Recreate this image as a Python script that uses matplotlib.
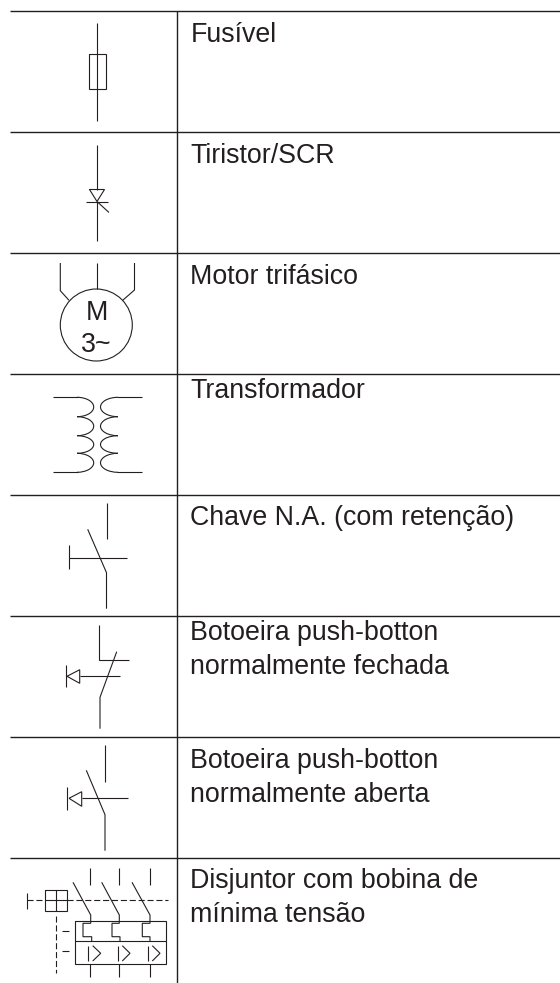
import matplotlib
matplotlib.use("Agg")
import matplotlib.pyplot as plt
from matplotlib.patches import Arc, Circle

INK = "#231f20"

row_lines = [11, 132, 253, 374, 495, 616, 737, 858]
labels = [
    (["Fusível"], [41.7]),
    (["Tiristor/SCR"], [163]),
    (["Motor trifásico"], [284]),
    (["Transformador"], [398]),
    (["Chave N.A. (com retenção)"], [525]),
    (["Botoeira push-botton", "normalmente fechada"], [640, 673.5]),
    (["Botoeira push-botton", "normalmente aberta"], [767.7, 801.6]),
    (["Disjuntor com bobina de", "mínima tensão"], [888.3, 921.7]),
]

fuse = [
    [(97, 23), (97, 120.5)],
    [(89, 54), (105.5, 54), (105.5, 89), (89, 89), (89, 54)],
]
thyristor = [
    [(96.5, 145), (96.5, 189.5)],
    [(89.5, 189.5), (104.5, 189.5), (97, 201.5), (89.5, 189.5)],
    [(85.5, 201.5), (108, 201.5)],
    [(97, 201.5), (97, 240.5)],
    [(97, 201.5), (109, 212.5)],
]
motor = [
    [(60.3, 263), (60.3, 290.7), (69, 300.3)],
    [(96.5, 263), (96.5, 289)],
    [(134.5, 263), (134.5, 290), (122.7, 300.3)],
]
motor_circle = (96.3, 325, 36)
motor_text = [("M", 96.5, 320), ("3~", 96.5, 351.5)]
transformer = [
    [(53, 397.3), (78, 397.3)],
    [(53, 472.3), (78, 472.3)],
    [(141.7, 397.3), (117, 397.3)],
    [(141.7, 472.3), (117, 472.3)],
]
coil_left = [(77, 407, 19.4), (77, 426.2, 19.0), (77, 444.5, 17.6), (77, 462.8, 19.0)]
coil_right = [(118, 407, 19.4), (118, 426.2, 19.0), (118, 444.5, 17.6), (118, 462.8, 19.0)]
switch_latched = [
    [(106.5, 503), (106.5, 538.7)],
    [(87.7, 529.3), (106.5, 572.7), (106.5, 608.7)],
    [(69, 557.7), (126.5, 557.7)],
    [(69, 545.3), (69, 568.7)],
]
push_nc = [
    [(99.3, 625), (99.3, 659.7), (128.7, 659.7)],
    [(116.7, 651.7), (100, 697.3), (100, 728.7)],
    [(80, 676.3), (119.7, 676.3)],
    [(67, 676.3), (79.7, 669.7), (79.7, 683.3), (67, 676.3)],
    [(66.3, 665.3), (66.3, 686.7)],
]
push_no = [
    [(105, 745), (105, 781.7)],
    [(86.3, 770.3), (105, 814.7), (105, 850.7)],
    [(81.7, 798.3), (127.7, 798.3)],
    [(69, 798.3), (81.7, 791.7), (81.7, 806.3), (69, 798.3)],
    [(67.3, 786.7), (67.3, 810.3)],
]
breaker = [
    [(90, 868.3), (90, 884.7)],
    [(119.3, 868.3), (119.3, 884.7)],
    [(150, 868.3), (150, 884.7)],
    [(73, 882.3), (90.7, 915), (90.7, 923.3), (83, 923.3), (83, 936.7), (91.7, 936.7), (91.7, 941.3)],
    [(101.7, 882.3), (119.3, 915), (119.3, 923.3), (112, 923.3), (112, 936.7), (120, 936.7), (120, 941.3)],
    [(132, 882.3), (150, 915), (150, 923.3), (142.3, 923.3), (142.3, 936.7), (150, 936.7), (150, 941.3)],
    [(74.7, 920.7), (165.7, 920.7), (165.7, 963.7), (74.7, 963.7), (74.7, 920.7)],
    [(74.7, 941.3), (165.7, 941.3)],
    [(88.3, 945.7), (88.3, 961)],
    [(92.7, 945.7), (100.7, 953.3), (92.7, 961)],
    [(117.7, 945.7), (117.7, 961)],
    [(122.3, 945.7), (130, 953.3), (122.3, 961)],
    [(147.7, 945.7), (147.7, 961)],
    [(152.3, 945.7), (160, 953.3), (152.3, 961)],
    [(90, 964.3), (90, 976.7)],
    [(119.3, 964.3), (119.3, 976.7)],
    [(150, 964.3), (150, 976.7)],
    [(61.7, 931), (69, 931)],
    [(61.7, 951.3), (69, 951.3)],
    [(27, 892.7), (27, 908.7)],
    [(45.3, 889.7), (66.7, 889.7), (66.7, 911), (45.3, 911), (45.3, 889.7)],
    [(56, 889.7), (56, 911)],
    [(45.3, 900.3), (66.7, 900.3)],
]
breaker_dashed = [
    [(27, 900.3), (45.3, 900.3)],
    [(66.7, 900.3), (168.3, 900.3)],
    [(56.3, 916), (56.3, 973.3)],
]
symbols = [fuse, thyristor, motor, transformer, switch_latched, push_nc, push_no, breaker]

plt.rcParams["font.family"] = ["Liberation Sans", "DejaVu Sans"]
fig = plt.figure(figsize=(5.6, 9.83), dpi=100, facecolor="white")
ax = fig.add_axes([0, 0, 1, 1])
ax.set_xlim(0, 560)
ax.set_ylim(983, 0)
ax.axis("off")

for y in row_lines:
    ax.plot([10, 560], [y, y], color=INK, lw=1.0, solid_capstyle="butt")
ax.plot([176.5, 176.5], [11, 983], color=INK, lw=1.0, solid_capstyle="butt")

for sym in symbols:
    for seg in sym:
        xs, ys = zip(*seg)
        ax.plot(xs, ys, color=INK, lw=0.8, solid_capstyle="butt", solid_joinstyle="miter")

for seg in breaker_dashed:
    xs, ys = zip(*seg)
    ax.plot(xs, ys, color=INK, lw=0.8, linestyle=(0, (5.5, 2.5)))

ax.add_patch(Circle(motor_circle[:2], motor_circle[2], fill=False, ec=INK, lw=0.8))
for txt, x, y in motor_text:
    ax.text(x, y, txt, ha="center", va="baseline", fontsize=19.3, color=INK)

for cx, cy, h in coil_left:
    ax.add_patch(Arc((cx, cy), 33.4, h, theta1=-90, theta2=90, ec=INK, lw=0.8))
for cx, cy, h in coil_right:
    ax.add_patch(Arc((cx, cy), 35, h, theta1=90, theta2=270, ec=INK, lw=0.8))

for lines, baselines in labels:
    for line, y in zip(lines, baselines):
        ax.text(190.5, y, line, ha="left", va="baseline", fontsize=19.3, color=INK)

fig.savefig("out.png", dpi=100)
